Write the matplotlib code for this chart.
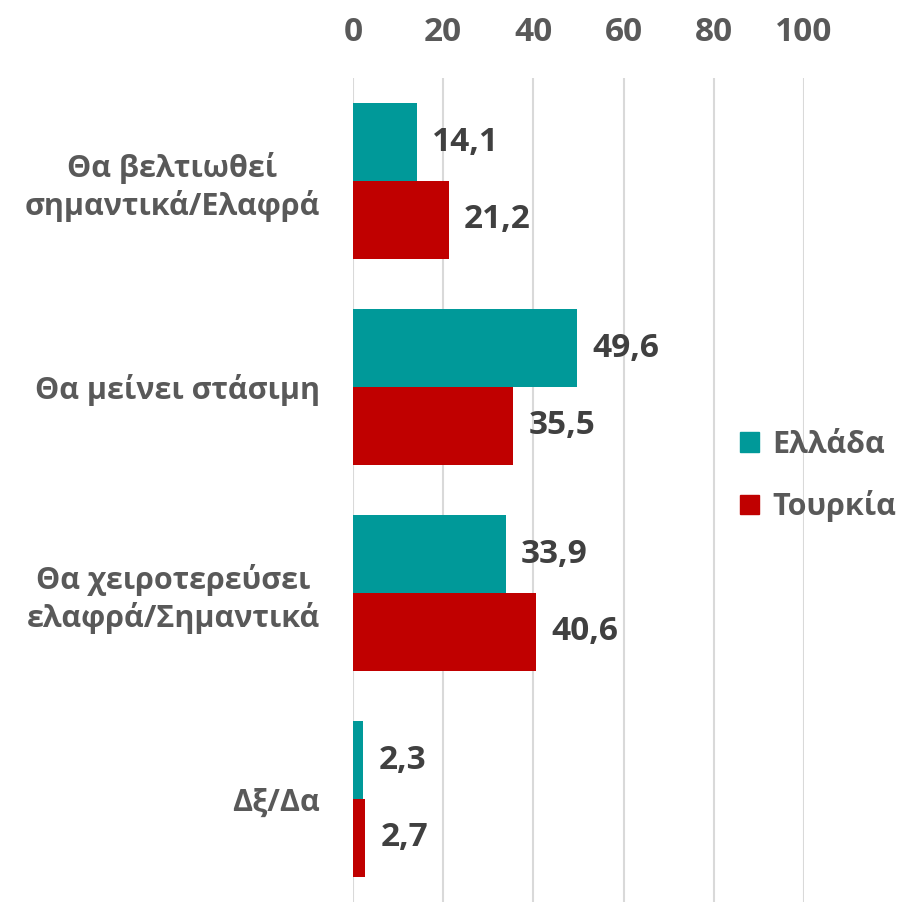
import matplotlib.pyplot as plt
from matplotlib.patches import Patch
import numpy as np

categories = ['Θα βελτιωθεί\nσημαντικά/Ελαφρά', 'Θα μείνει στάσιμη',
              'Θα χειροτερεύσει\nελαφρά/Σημαντικά', 'Δξ/Δα']
greece = [14.1, 49.6, 33.9, 2.3]
turkey = [21.2, 35.5, 40.6, 2.7]
series_names = ['Ελλάδα', 'Τουρκία']
xticks = [0, 20, 40, 60, 80, 100]

teal = '#009999'
red = '#c00000'
label_grey = '#595959'
value_grey = '#404040'

plt.rcParams['font.family'] = ['Open Sans', 'DejaVu Sans']
plt.rcParams['font.weight'] = 'bold'

fig = plt.figure(figsize=(9.02, 9.02), dpi=100)
ax = fig.add_axes([353 / 902, 0, (804 - 353) / 902, 1 - 78 / 902])

y = np.arange(len(categories))
h = 0.378
ax.barh(y - h / 2, greece, height=h, color=teal)
ax.barh(y + h / 2, turkey, height=h, color=red)

for yi, g, t in zip(y, greece, turkey):
    for v, off in ((g, -h / 2), (t, h / 2)):
        ax.annotate(f'{v:.1f}'.replace('.', ','), (v, yi + off),
                    xytext=(11, 0), textcoords='offset points',
                    ha='left', va='center', fontsize=24,
                    fontweight='bold', color=value_grey)

ax.set_xlim(0, 100)
ax.set_ylim(3.5, -0.5)
ax.set_xticks(xticks)
ax.xaxis.tick_top()
ax.tick_params(axis='x', length=0, pad=21, labelsize=24, labelcolor=label_grey)
ax.set_yticks(y)
ax.set_yticklabels(categories, multialignment='center')
ax.tick_params(axis='y', length=0, pad=24, labelsize=22, labelcolor=label_grey)
for lab in ax.get_xticklabels() + ax.get_yticklabels():
    lab.set_fontweight('bold')

ax.grid(axis='x', color='#d9d9d9', linewidth=1.5)
ax.set_axisbelow(True)
for s in ax.spines.values():
    s.set_visible(False)

handles = [Patch(color=teal), Patch(color=red)]
leg = fig.legend(handles, series_names, loc='center left',
                 bbox_to_anchor=(719 / 902, 1 - 476 / 902), frameon=False,
                 handlelength=0.6, handleheight=0.6, handletextpad=0.45,
                 labelspacing=1.0, fontsize=22, labelcolor=label_grey,
                 borderpad=0.2)
for t in leg.get_texts():
    t.set_fontweight('bold')

fig.savefig('out.png', dpi=100)
